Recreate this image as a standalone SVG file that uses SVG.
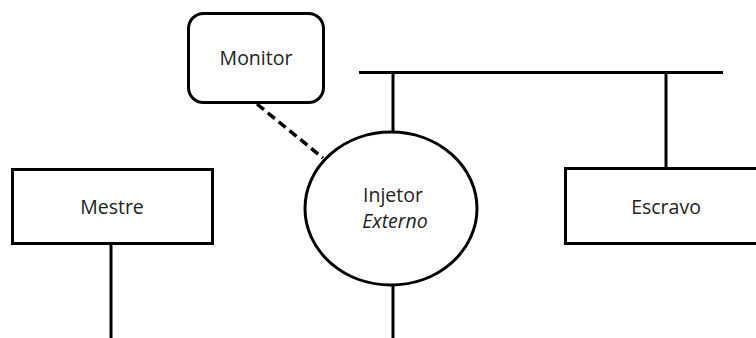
<svg xmlns="http://www.w3.org/2000/svg" width="756" height="338" viewBox="0 0 756 338">
  <style>
    .box { fill: #ffffff; stroke: #000000; stroke-width: 3; }
    .wire { fill: none; stroke: #000000; stroke-width: 3; }
    .dash { fill: none; stroke: #000000; stroke-width: 3.5; stroke-dasharray: 9 5; }
    .label { font-family: "Open Sans", "Liberation Sans", sans-serif; font-size: 19.5px; fill: #222222; text-anchor: middle; }
  </style>
  <rect width="756" height="338" fill="#ffffff"/>

  <!-- connectors -->
  <g id="connectors">
    <line class="wire" x1="359" y1="72.5" x2="723" y2="72.5"/>
    <line class="wire" x1="393" y1="72" x2="393" y2="132"/>
    <line class="wire" x1="393" y1="285" x2="393" y2="338"/>
    <line class="wire" x1="666" y1="72" x2="666" y2="168"/>
    <line class="wire" x1="111" y1="244" x2="111" y2="338"/>
    <line class="dash" x1="257" y1="104" x2="323" y2="158"/>
  </g>

  <g id="monitor">
    <rect class="box" x="188.5" y="13.5" width="135" height="89" rx="15" ry="15"/>
    <text class="label" x="256" y="65">Monitor</text>
  </g>

  <g id="mestre">
    <rect class="box" x="12.5" y="169.5" width="200" height="74"/>
    <text class="label" x="112" y="214">Mestre</text>
  </g>

  <g id="injetor">
    <ellipse class="box" cx="391" cy="208.5" rx="86" ry="76.5" stroke-width="2.5"/>
    <text class="label" x="393" y="202">Injetor</text>
    <text class="label" x="395" y="228" font-style="italic">Externo</text>
  </g>

  <g id="escravo">
    <rect class="box" x="565.5" y="168.5" width="200" height="75"/>
    <text class="label" x="666" y="214">Escravo</text>
  </g>
</svg>
